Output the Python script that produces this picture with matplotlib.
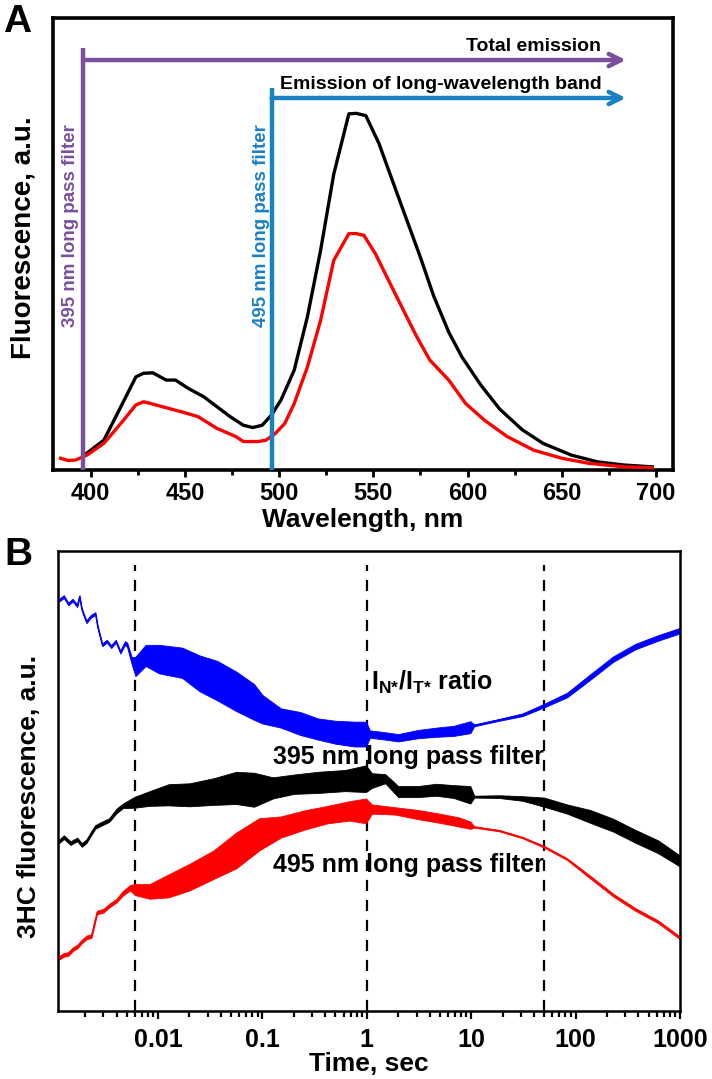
import matplotlib
matplotlib.use("Agg")
import matplotlib.pyplot as plt
import numpy as np

plt.rcParams["mathtext.fontset"] = "custom"
plt.rcParams["mathtext.rm"] = "Liberation Sans:bold"
plt.rcParams["mathtext.bf"] = "Liberation Sans:bold"
plt.rcParams["mathtext.it"] = "Liberation Sans:bold"

# ---------------- Panel A data ----------------
wl_black = [396, 407, 416, 424, 428, 433, 440, 445, 452, 460, 467, 474, 481, 486, 491, 496, 501, 508,
            515, 522, 529, 537, 541, 546, 553, 561, 568, 575, 582, 590, 597, 607, 617, 629, 640, 655,
            669, 683, 698]
fl_black = [3.1, 6.6, 14.0, 20.6, 21.4, 21.5, 19.9, 19.9, 18.0, 16.2, 14.0, 11.8, 9.9, 9.4, 9.9, 12.2,
            15.5, 22.1, 33.9, 48.6, 65.5, 78.8, 78.9, 78.4, 72.2, 63.0, 55.0, 47.0, 38.5, 30.5, 25.0,
            18.8, 13.5, 8.9, 5.9, 3.3, 1.8, 1.1, 0.7]
wl_red = [384, 388, 392, 398, 407, 416, 424, 428, 432, 438, 448, 457, 467, 477, 481, 489, 493, 498,
          503, 508, 515, 522, 529, 537, 541, 545, 551, 558, 566, 573, 580, 590, 599, 609, 621, 635,
          650, 664, 683, 698]
fl_red = [2.6, 2.1, 2.2, 3.3, 5.9, 10.3, 14.4, 15.1, 14.7, 14.0, 12.9, 11.8, 9.2, 7.4, 6.3, 6.3, 6.6,
          8.1, 10.3, 14.7, 22.8, 33.1, 46.4, 52.3, 52.3, 51.9, 47.9, 42.0, 35.3, 29.5, 24.3, 19.9,
          14.7, 11.0, 7.4, 4.4, 2.6, 1.5, 0.7, 0.5]
wl_ticks = [400, 450, 500, 550, 600, 650, 700]
filter_395 = 396
filter_495 = 496

# ---------------- Panel B data ----------------
t_blue = [0.00113, 0.00125, 0.00138, 0.00152, 0.00168, 0.00177, 0.00186, 0.00206, 0.00227, 0.00251,
          0.00264, 0.00292, 0.00323, 0.00356, 0.00394, 0.00436, 0.00482, 0.00506, 0.0056, 0.00607,
          0.0076, 0.0102, 0.017, 0.025, 0.037, 0.056, 0.083, 0.10, 0.15, 0.23, 0.34, 0.50, 0.76,
          0.98, 1.07, 1.5, 2.0, 3.1, 4.6, 6.8, 9.8, 10.7, 18.6, 31, 50, 83, 138, 229, 372, 617, 1000]
c_blue = [89.3, 90.1, 88.5, 89.3, 88.1, 90.1, 87.3, 84.6, 85.8, 86.4, 83.5, 79.6, 80.4, 79.2, 80.4,
          78.0, 80.0, 79.6, 76.1, 74.9, 77.3, 76.5, 75.7, 73.4, 71.8, 69.5, 67.2, 65.6, 63.7, 62.5,
          61.3, 60.6, 60.2, 60.2, 60.2, 59.8, 59.4, 60.2, 60.6, 60.9, 61.7, 62.1, 63.3, 64.4, 66.4,
          68.7, 72.6, 76.5, 79.2, 81.1, 82.7]
s_blue = [0.3, 0.3, 0.3, 0.3, 0.3, 0.3, 0.3, 0.3, 0.3, 0.3, 0.3, 0.3, 0.3, 0.3, 0.3, 0.3, 0.4, 0.5,
          0.8, 2.1, 2.3, 3.1, 3.3, 3.9, 4.3, 4.3, 3.9, 3.1, 2.1, 2.5, 2.3, 2.5, 2.7, 2.7, 0.8, 0.8,
          0.8, 0.9, 1.0, 1.1, 1.3, 0.2, 0.2, 0.3, 0.4, 0.5, 0.6, 0.6, 0.6, 0.6, 0.6]

t_black = [0.00113, 0.00125, 0.00145, 0.00168, 0.00186, 0.00206, 0.00227, 0.0025, 0.00292, 0.0034,
           0.0040, 0.0046, 0.006, 0.0083, 0.0126, 0.020, 0.034, 0.056, 0.083, 0.126, 0.20, 0.34,
           0.62, 0.98, 1.12, 1.5, 2.0, 3.1, 4.6, 6.8, 9.8, 10.7, 18.6, 31, 50, 83, 138, 229, 372,
           617, 1000]
c_black = [36.9, 37.8, 36.5, 37.3, 36.1, 36.9, 38.5, 40.0, 40.8, 41.5, 43.5, 44.6, 45.4, 46.2, 47.0,
           47.0, 47.7, 48.5, 48.1, 48.5, 49.3, 49.7, 50.1, 50.5, 50.1, 50.5, 47.7, 47.7, 48.1, 47.7,
           47.0, 46.6, 46.6, 46.2, 45.4, 43.9, 42.3, 40.4, 38.0, 35.7, 32.6]
s_black = [0.4, 0.4, 0.4, 0.4, 0.4, 0.4, 0.4, 0.4, 0.4, 0.4, 0.5, 0.5, 1.2, 1.6, 2.3, 2.5, 2.9, 3.5,
           3.7, 2.3, 2.1, 2.3, 2.3, 2.9, 1.6, 1.0, 1.2, 1.2, 1.3, 1.4, 1.9, 0.2, 0.3, 0.5, 1.0, 1.0,
           1.4, 1.4, 1.4, 1.4, 1.2]

t_red = [0.00113, 0.00125, 0.00138, 0.00152, 0.00168, 0.00186, 0.00206, 0.0023, 0.0026, 0.0030,
         0.0034, 0.0040, 0.0046, 0.0054, 0.006, 0.0083, 0.0126, 0.020, 0.034, 0.056, 0.093, 0.15,
         0.25, 0.42, 0.68, 0.98, 1.12, 1.86, 3.1, 5.0, 7.6, 9.8, 10.7, 18.6, 31, 50, 83, 138, 229,
         372, 617, 1000]
c_red = [11.6, 12.2, 12.4, 13.4, 14.0, 15.1, 16.0, 16.3, 21.4, 21.8, 22.9, 24.0, 25.6, 26.8, 26.4,
         26.0, 27.2, 29.1, 31.8, 34.9, 38.4, 40.0, 41.5, 42.7, 43.5, 43.5, 43.9, 43.5, 42.7, 41.9,
         41.1, 40.4, 40.0, 39.2, 37.7, 35.7, 33.0, 29.1, 25.2, 22.1, 19.4, 15.9]
s_red = [0.4, 0.4, 0.4, 0.4, 0.4, 0.4, 0.4, 0.4, 0.4, 0.4, 0.4, 0.4, 0.5, 0.6, 1.2, 1.6, 2.5, 2.9,
         3.1, 3.9, 3.5, 2.3, 2.1, 1.9, 2.1, 2.7, 1.0, 0.8, 1.0, 1.0, 1.0, 0.8, 0.15, 0.15, 0.15,
         0.2, 0.2, 0.3, 0.3, 0.3, 0.3, 0.3]

time_ticks = [0.01, 0.1, 1, 10, 100, 1000]
time_tick_labels = ["0.01", "0.1", "1", "10", "100", "1000"]
dashed_times = [0.006, 1, 50]

# ---------------- styling ----------------
FONT = ["Liberation Sans", "DejaVu Sans"]
purple = "#7a4f9c"
lblue = "#1a80c4"

fig = plt.figure(figsize=(7.12, 10.79), dpi=100)

# ---- Panel A ----
axA = fig.add_axes([53/712, 1-470/1079, 620/712, 452/1079])
axA.plot(wl_black, fl_black, color="black", lw=2.4, zorder=3)
axA.plot(wl_red, fl_red, color="#ff0000", lw=2.4, zorder=3)
axA.set_xlim(380, 709)
axA.set_ylim(0, 100)
axA.set_yticks([])
axA.set_xticks(wl_ticks)
axA.set_xticks([425, 475, 525, 575, 625, 675], minor=True)
axA.tick_params(axis="x", which="major", direction="out", length=5, width=2, pad=4)
axA.tick_params(axis="x", which="minor", direction="out", length=3.5, width=2)
for lab in axA.get_xticklabels():
    lab.set_fontfamily(FONT)
    lab.set_fontweight("bold")
    lab.set_fontsize(17)
for sp in axA.spines.values():
    sp.set_linewidth(2.6)

axA.plot([filter_395, filter_395], [0, 93.3], color=purple, lw=3.2, zorder=4, solid_capstyle="butt")
axA.annotate("", xy=(684, 90.7), xytext=(filter_395, 90.7),
             arrowprops=dict(arrowstyle="->", color=purple, lw=3.2, mutation_scale=22,
                             shrinkA=0, shrinkB=0))
axA.plot([filter_495, filter_495], [0, 84.5], color=lblue, lw=3.2, zorder=4, solid_capstyle="butt")
axA.annotate("", xy=(684, 82.3), xytext=(filter_495, 82.3),
             arrowprops=dict(arrowstyle="->", color=lblue, lw=3.2, mutation_scale=22,
                             shrinkA=0, shrinkB=0))
axA.text(671, 91.9, "Total emission", ha="right", va="bottom", fontsize=14,
         fontweight="bold", family=FONT)
axA.text(671, 83.5, "Emission of long-wavelength band", ha="right", va="bottom", fontsize=14,
         fontweight="bold", family=FONT)
axA.text(389.5, 54, "395 nm long pass filter", rotation=90, ha="center", va="center",
         fontsize=13.5, fontweight="bold", color=purple, family=FONT)
axA.text(490.5, 54, "495 nm long pass filter", rotation=90, ha="center", va="center",
         fontsize=13.5, fontweight="bold", color=lblue, family=FONT)
axA.set_xlabel("Wavelength, nm", fontsize=19, fontweight="bold", family=FONT, labelpad=2)
axA.set_ylabel("Fluorescence, a.u.", fontsize=20, fontweight="bold", family=FONT)
axA.yaxis.set_label_coords(-0.027, 0.513)

# ---- Panel B ----
axB = fig.add_axes([58/712, 1-1011/1079, 622/712, 460/1079])
axB.set_xscale("log")
for t, c, s, col in [(t_blue, c_blue, s_blue, "#0000ff"),
                     (t_black, c_black, s_black, "black"),
                     (t_red, c_red, s_red, "#ff0000")]:
    ta = np.array(t); ca = np.array(c); sa = np.array(s)
    axB.fill_between(ta, ca - sa, ca + sa, color=col, lw=0.6, zorder=2)
    axB.plot(ta, ca, color=col, lw=0.8, zorder=3)
for dt in dashed_times:
    axB.axvline(dt, ymin=0, ymax=0.97, color="black", lw=1.6, ls=(0, (5, 4)), zorder=1)
axB.set_xlim(0.0011, 1000)
axB.set_ylim(0, 100)
axB.set_yticks([])
axB.set_xticks(time_ticks)
axB.set_xticklabels(time_tick_labels)
axB.tick_params(axis="x", which="major", direction="out", length=6, width=1.6, pad=6)
axB.tick_params(axis="x", which="minor", direction="out", length=4.5, width=1.6)
for lab in axB.get_xticklabels():
    lab.set_fontfamily(FONT)
    lab.set_fontweight("bold")
    lab.set_fontsize(18)
for sp in axB.spines.values():
    sp.set_linewidth(1.8)
axB.text(1.1, 69.8, r"$\mathbf{I_{N{*}}/I_{T{*}}}$ ratio", ha="left", va="baseline", fontsize=18,
         fontweight="bold", family=FONT)
axB.text(2.48, 55.3, "395 nm long pass filter", ha="center", va="center", fontsize=18,
         fontweight="bold", family=FONT)
axB.text(2.48, 31.8, "495 nm long pass filter", ha="center", va="center", fontsize=18,
         fontweight="bold", family=FONT)
axB.set_xlabel("Time, sec", fontsize=19, fontweight="bold", family=FONT, labelpad=0)
axB.set_ylabel("3HC fluorescence, a.u.", fontsize=19, fontweight="bold", family=FONT)
axB.yaxis.set_label_coords(-0.027, 0.467)

fig.text(3/712, 1-4/1079, "A", fontsize=28, fontweight="bold", family=FONT, va="top", ha="left")
fig.text(4/712, 1-537/1079, "B", fontsize=28, fontweight="bold", family=FONT, va="top", ha="left")

fig.savefig("out.png", dpi=100)
